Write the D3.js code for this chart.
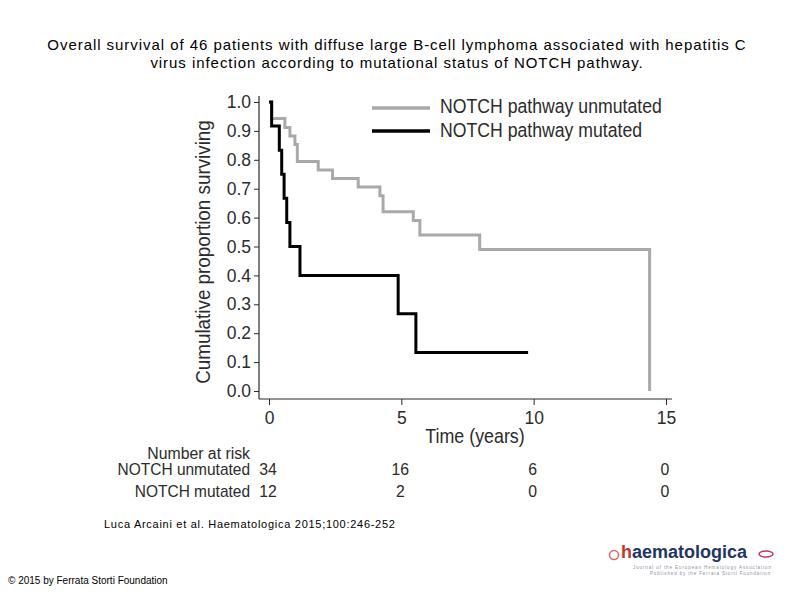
<!DOCTYPE html>
<html>
<head>
<meta charset="utf-8">
<script src="https://cdn.jsdelivr.net/npm/d3@7"></script>
<style>
  html, body { margin: 0; padding: 0; background: #fff; }
  svg text { font-family: "Liberation Sans", Arial, sans-serif; }
</style>
</head>
<body>
<div id="km"></div>
<script>
// ===== データ =====
// 非変異群 (n=34): [時間(年), 生存割合]
const unmutatedTimes = [0, 0.1, 0.6, 0.79, 0.98, 1.07, 1.86, 2.4, 3.37, 4.19, 4.31, 5.45, 5.7, 7.96, 14.38];
const unmutatedSurv  = [1.0, 0.943, 0.912, 0.882, 0.853, 0.794, 0.765, 0.735, 0.706, 0.676, 0.62, 0.59, 0.54, 0.49, 0.0];
const unmutatedEnd = 14.38;

// 変異群 (n=12)
const mutatedTimes = [0, 0.1, 0.39, 0.48, 0.57, 0.67, 0.79, 1.17, 4.88, 5.55];
const mutatedSurv  = [1.0, 0.917, 0.833, 0.75, 0.667, 0.583, 0.5, 0.4, 0.267, 0.133];
const mutatedEnd = 9.79;

const seriesNames = ["NOTCH pathway unmutated", "NOTCH pathway mutated"];
const seriesColors = ["#a9a9a9", "#000000"];

const xTicks = [0, 5, 10, 15];
const yTicks = [0, 0.1, 0.2, 0.3, 0.4, 0.5, 0.6, 0.7, 0.8, 0.9, 1.0];

const riskLabels = ["NOTCH unmutated", "NOTCH mutated"];
const riskUnmutated = [34, 16, 6, 0];
const riskMutated = [12, 2, 0, 0];

(function () {
    const W = 794, H = 595;
    const INK = '#2b2b2b';
    const svg = d3.select('#km').append('svg').attr('width', W).attr('height', H);

    // 横方向に詰めたテキスト (元図のコンデンス書体の代わり)
    function condText(parent, x, y, str, size, sx, anchor, rot) {
        return parent.append('text')
            .attr('transform', `translate(${x},${y})${rot ? ` rotate(${rot})` : ''} scale(${sx},1)`)
            .attr('text-anchor', anchor || 'start')
            .style('font-size', size + 'px')
            .attr('fill', INK)
            .text(str);
    }

    // タイトル
    svg.append('text').attr('x', 397).attr('y', 50).attr('text-anchor', 'middle')
        .style('font-size', '15px').style('letter-spacing', '0.95px')
        .text('Overall survival of 46 patients with diffuse large B-cell lymphoma associated with hepatitis C');
    svg.append('text').attr('x', 397).attr('y', 68).attr('text-anchor', 'middle')
        .style('font-size', '15px').style('letter-spacing', '0.95px')
        .text('virus infection according to mutational status of NOTCH pathway.');

    // スケール
    const x = d3.scaleLinear().domain([0, 15]).range([269, 666]);
    const y = d3.scaleLinear().domain([0, 1]).range([391, 102]);

    // 軸
    const yAxis = d3.axisLeft(y).tickValues(yTicks).tickFormat(d3.format('.1f')).tickSize(5).tickSizeOuter(0);
    const gy = svg.append('g').attr('transform', 'translate(259,0)').call(yAxis);
    gy.select('.domain').attr('d', 'M0,96V399').attr('stroke', INK).attr('stroke-width', 1.2);
    gy.selectAll('.tick line').attr('stroke', INK);
    gy.selectAll('text').style('font-size', '17.5px').style('font-family', '"Liberation Sans", sans-serif')
        .attr('fill', INK).attr('x', -8);

    const xAxis = d3.axisBottom(x).tickValues(xTicks).tickSize(6).tickSizeOuter(0);
    const gx = svg.append('g').attr('transform', 'translate(0,399)').call(xAxis);
    gx.select('.domain').attr('d', 'M259,0H672').attr('stroke', INK).attr('stroke-width', 1.2);
    gx.selectAll('.tick line').attr('stroke', INK);
    gx.selectAll('text').style('font-size', '17.5px').style('font-family', '"Liberation Sans", sans-serif')
        .attr('fill', INK).attr('y', 13);

    // 軸ラベル
    condText(svg, 210, 252, 'Cumulative proportion surviving', 19.5, 0.965, 'middle', -90);
    condText(svg, 475, 443, 'Time (years)', 19.5, 0.915, 'middle');

    // 階段関数
    function stepPoints(times, surv, end) {
        const pts = [];
        for (let i = 0; i < times.length; i++) {
            if (i > 0) pts.push([times[i], surv[i - 1]]);
            pts.push([times[i], surv[i]]);
        }
        if (end > times[times.length - 1]) pts.push([end, surv[surv.length - 1]]);
        return pts;
    }
    const line = d3.line().x(d => x(d[0])).y(d => y(d[1]));

    const curves = [
        stepPoints(unmutatedTimes, unmutatedSurv, unmutatedEnd),
        stepPoints(mutatedTimes, mutatedSurv, mutatedEnd)
    ];
    curves.forEach((pts, i) => {
        svg.append('path').datum(pts).attr('d', line)
            .attr('fill', 'none').attr('stroke', seriesColors[i]).attr('stroke-width', 3)
            .attr('stroke-linejoin', 'miter');
    });

    // 凡例
    const lg = svg.append('g');
    seriesNames.forEach((name, i) => {
        const ly = 108 + i * 23;
        lg.append('line').attr('x1', 372).attr('x2', 430).attr('y1', ly).attr('y2', ly)
            .attr('stroke', seriesColors[i]).attr('stroke-width', 3.5);
        condText(lg, 440, 113 + i * 24, name, 19.5, 0.906, 'start');
    });

    // Number at risk
    condText(svg, 250, 459, 'Number at risk', 15.8, 1, 'end');
    [riskUnmutated, riskMutated].forEach((vals, i) => {
        const ry = 475 + i * 22;
        condText(svg, 250, ry, riskLabels[i], 15.8, 0.98, 'end');
        svg.selectAll(null).data(vals).join('text')
            .attr('x', (d, j) => x(xTicks[j]) - 1).attr('y', ry)
            .attr('text-anchor', 'middle').style('font-size', '15.8px').attr('fill', INK)
            .text(d => d);
    });

    // 出典
    svg.append('text').attr('x', 104).attr('y', 528).style('font-size', '11px').style('letter-spacing', '0.72px')
        .text('Luca Arcaini et al. Haematologica 2015;100:246-252');
    svg.append('text').attr('x', 8).attr('y', 584).style('font-size', '10px')
        .text('© 2015 by Ferrata Storti Foundation');

    // ロゴ
    const logo = svg.append('g');
    logo.append('circle').attr('cx', 614).attr('cy', 555).attr('r', 4.5).attr('fill', 'none')
        .attr('stroke', '#c44').attr('stroke-width', 1.5).attr('opacity', 0.8);
    const lt = logo.append('text').attr('x', 621).attr('y', 558).style('font-size', '18px').style('font-weight', 'bold')
        .attr('textLength', 126).attr('lengthAdjust', 'spacingAndGlyphs');
    lt.append('tspan').attr('fill', '#c0392b').text('h');
    lt.append('tspan').attr('fill', '#1f3566').text('aematologica');
    logo.append('text').attr('x', 633).attr('y', 569).style('font-size', '4.5px').attr('fill', '#8a8fa0')
        .attr('textLength', 138).text('Journal of the European Hematology Association');
    logo.append('text').attr('x', 650).attr('y', 575).style('font-size', '4.5px').attr('fill', '#8a8fa0')
        .attr('textLength', 120).text('Published by the Ferrata Storti Foundation');
    logo.append('ellipse').attr('cx', 766).attr('cy', 554).attr('rx', 7).attr('ry', 3)
        .attr('fill', 'none').attr('stroke', '#c36').attr('stroke-width', 1.5);
})();
</script>
</body>
</html>
